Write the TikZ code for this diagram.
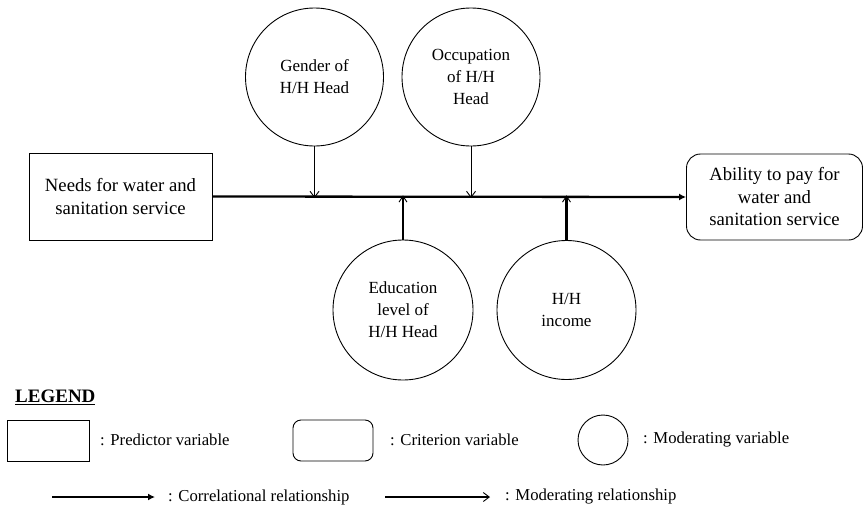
\documentclass[tikz,border=0pt]{standalone}
\usepackage{fontspec}
\setmainfont{Liberation Serif}
\usetikzlibrary{arrows.meta}

\tikzset{
  boxtext/.style={font=\fontsize{18.7}{22.5}\selectfont, align=center},
  circtext/.style={font=\fontsize{17}{22}\selectfont, align=center},
  legtext/.style={font=\fontsize{16.7}{20}\selectfont, anchor=west, inner sep=0pt},
  predictor/.style={draw, line width=0.9pt, rectangle, inner sep=0pt},
  criterion/.style={draw, line width=0.9pt, rectangle, rounded corners=14pt, inner sep=0pt},
  moderator/.style={draw, line width=0.9pt, circle, inner sep=0pt},
  correl/.style={line width=2.3pt, -{Latex[length=7pt,width=7pt]}},
  moderel/.style={line width=0.9pt, -{Straight Barb[length=6pt,width=9pt,line width=0.9pt]}},
  moderelthick/.style={line width=2.3pt, -{Straight Barb[length=6pt,width=8pt,line width=0.9pt]}},
}

\begin{document}
\begin{tikzpicture}[x=1pt,y=-1pt]
\useasboundingbox (0,0) rectangle (865,514);

% main variables
\node[predictor, boxtext, minimum width=183pt, minimum height=87pt] (pred) at (120.5,196.5)
  {Needs for water and\\sanitation service};
\node[criterion, boxtext, minimum width=176pt, minimum height=86pt] (crit) at (774.5,197)
  {Ability to pay for\\water and\\sanitation service};

% moderating variables
\node[moderator, circtext, minimum size=138pt] (gender) at (314.5,77) {Gender of\\H/H Head};
\node[moderator, circtext, minimum size=138pt] (occup) at (471,77) {Occupation\\of H/H\\Head};
\node[moderator, circtext, minimum size=140pt] (educ) at (403,310) {Education\\level of\\H/H Head};
\node[moderator, circtext, minimum size=139pt] (income) at (566.5,310) {H/H\\income};

% relationships
\draw[correl] (pred.east) -- (crit.west);
\draw[moderel] (gender.south) -- ([yshift=-1.5pt]gender.south |- pred.east);
\draw[moderel] (occup.south) -- ([yshift=-1.5pt]occup.south |- pred.east);
\draw[moderelthick] (educ.north) -- ([yshift=1.2pt]educ.north |- pred.east);
\draw[moderelthick] (income.north) -- ([yshift=1.2pt]income.north |- pred.east);

% legend
\node[anchor=west, inner sep=0pt, font=\fontsize{19}{20}\selectfont\bfseries] (legtitle) at (15,397.5) {\underline{LEGEND}};

\node[predictor, minimum width=82pt, minimum height=41pt] (lpred) at (48,440.5) {};
\node[legtext] (lpredtxt) at (100,440) {: Predictor variable};

\node[criterion, rounded corners=8pt, minimum width=80pt, minimum height=41pt] (lcrit) at (333,440.5) {};
\node[legtext] (lcrittxt) at (390,440) {: Criterion variable};

\node[moderator, minimum size=50pt] (lmod) at (603,440) {};
\node[legtext] (lmodtxt) at (643,440) {: Moderating variable};

\coordinate (c1a) at (52,497);
\coordinate (c1b) at (155,497);
\draw[correl] (c1a) -- (c1b);
\node[legtext] (c1txt) at (168,497) {: Correlational relationship};

\coordinate (m1a) at (385,497);
\coordinate (m1b) at (490,497);
\draw[line width=2.3pt, -{Straight Barb[length=6pt,width=9pt,line width=0.9pt]}] (m1a) -- (m1b);
\node[legtext] (m1txt) at (505,497) {: Moderating relationship};
\end{tikzpicture}
\end{document}
